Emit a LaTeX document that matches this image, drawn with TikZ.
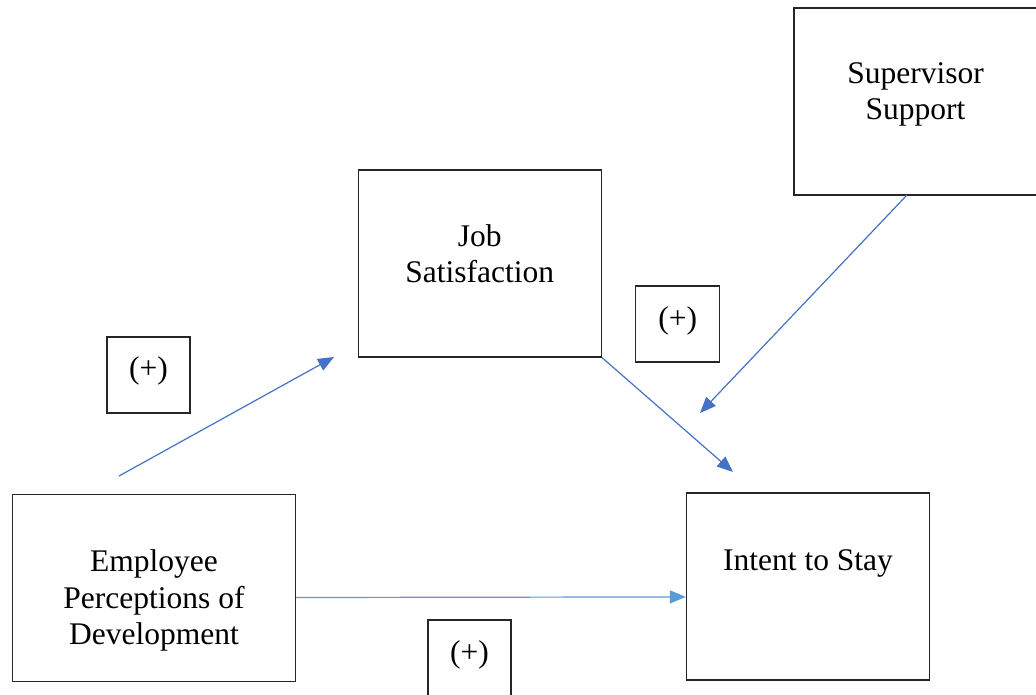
\documentclass[tikz,border=0pt]{standalone}
\usepackage{fontspec}
\setmainfont{Liberation Serif}
\usetikzlibrary{arrows.meta}
\definecolor{arrowblue}{HTML}{4472C4}
\definecolor{lightblue}{HTML}{5B9BD5}
\definecolor{boxline}{HTML}{262626}
\begin{document}
\begin{tikzpicture}[x=1pt,y=-1pt,
  box/.style={draw=boxline, line width=1.3pt, rectangle, inner sep=0pt,
    minimum width=243pt, minimum height=187pt},
  signbox/.style={draw=boxline, line width=1.3pt, rectangle, inner sep=0pt,
    minimum width=83pt, minimum height=76pt},
  txt/.style={font=\fontsize{31.5}{36.5}\selectfont, align=center, inner sep=0pt, anchor=base},
  conn/.style={draw=arrowblue, line width=1.2pt, -{Triangle[length=16pt,width=13pt]}},
  connlight/.style={draw=lightblue, line width=1.2pt, -{Triangle[length=16pt,width=13pt]}}
]
\useasboundingbox (0,0) rectangle (1036,694);
\clip (0,0) rectangle (1036,694);
\fill[white] (0,0) rectangle (1036,694);

\node[box] (sup) at (915.5,101.5) {};
\node[box] (job) at (479.8,263.4) {};
\node[box, minimum width=283pt] (emp) at (154,588) {};
\node[box] (intent) at (808,586.4) {};
\node[signbox] (p1) at (148.5,375) {};
\node[signbox, minimum width=84pt] (p2) at (677.8,324) {};
\node[signbox] (p3) at (469.5,658) {};

% base anchor of a multi-line node = baseline of its last line
\node[txt] (tsup) at (915.5,119.5) {Supervisor\\Support};
\node[txt] (tjob) at (479.8,282.5) {Job\\Satisfaction};
\node[txt] (temp) at (154,644.5) {Employee\\Perceptions of\\Development};
\node[txt] (tint) at (808,570) {Intent to Stay};
\node[txt] (tp1) at (148.5,378) {(+)};
\node[txt] (tp2) at (677.8,328.5) {(+)};
\node[txt] (tp3) at (469.5,662) {(+)};

\coordinate (a1s) at (119,476);
\coordinate (a1e) at (334,357);
\coordinate (a2e) at (733,472);
\coordinate (a3s) at (907,195);
\coordinate (a3e) at (700,413);

\draw[conn] (a1s) -- (a1e);
\draw[conn] (job.south east) -- (a2e);
\draw[conn] (a3s) -- (a3e);
\draw[connlight] ([yshift=-9.5pt]emp.east) -- ([yshift=-10.5pt]intent.west);
\end{tikzpicture}
\end{document}
